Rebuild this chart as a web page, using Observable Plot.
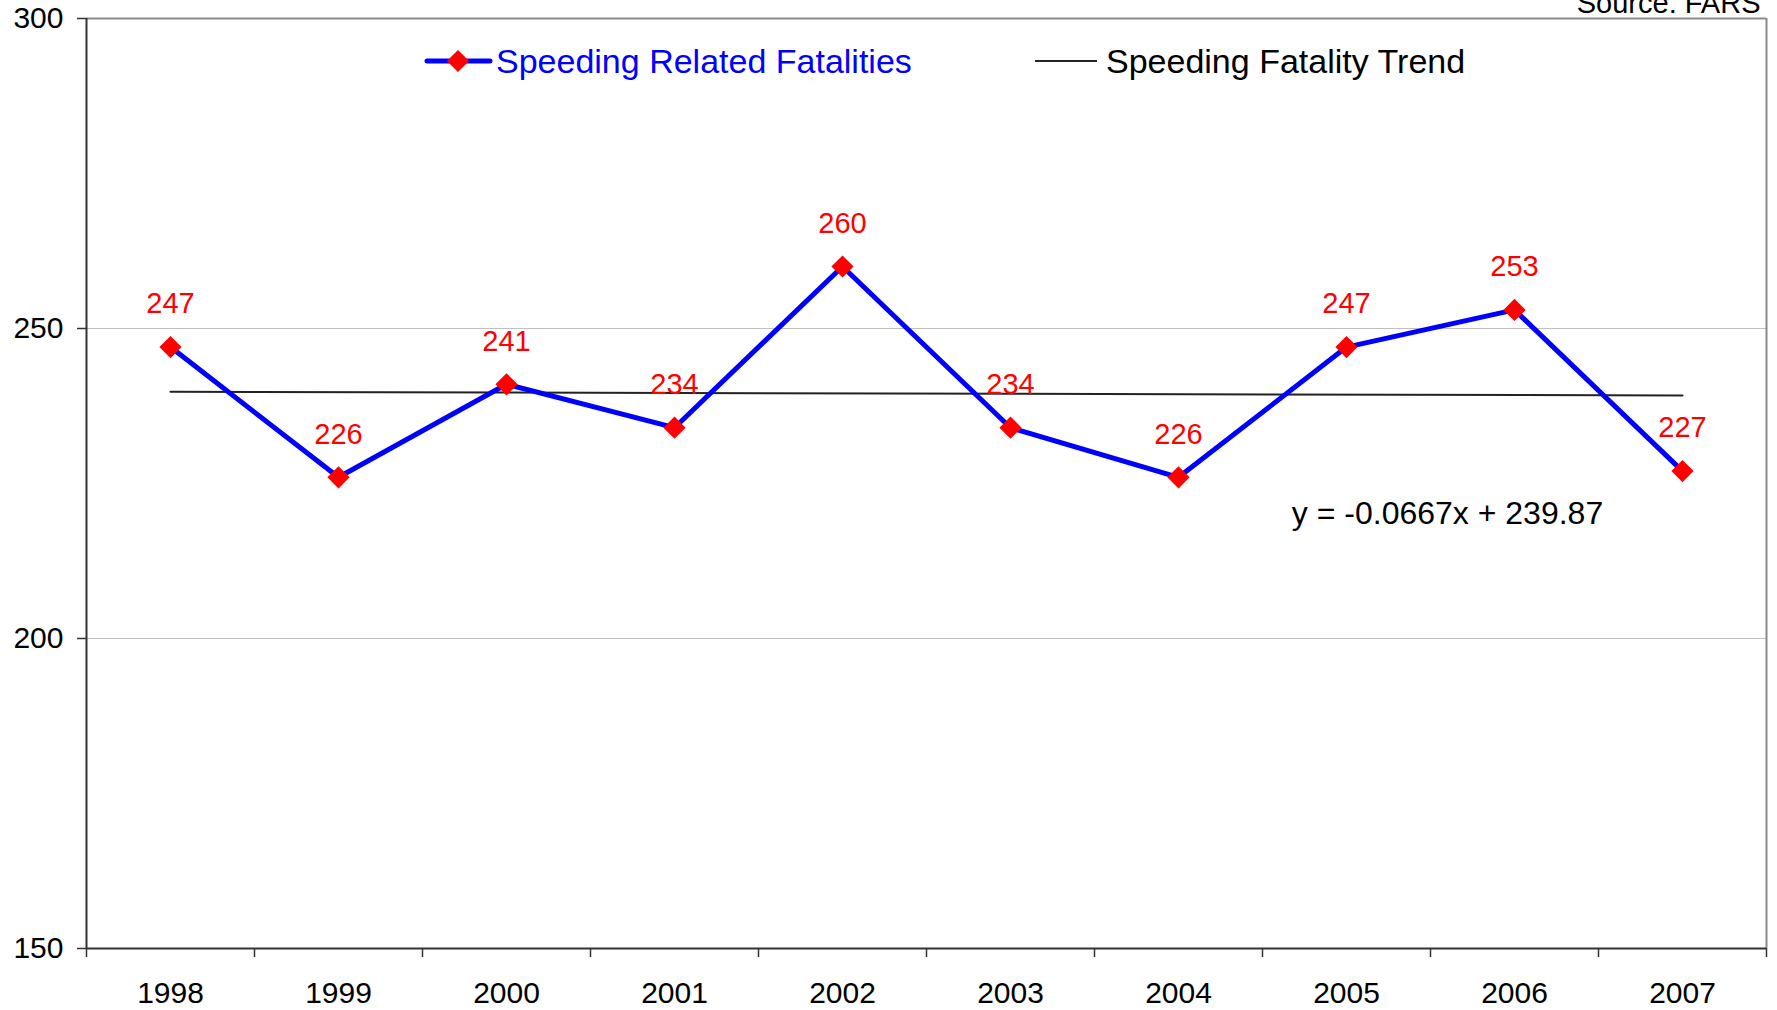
<!DOCTYPE html>
<html>
<head>
<meta charset="utf-8">
<script src="https://cdn.jsdelivr.net/npm/d3@7"></script>
<script src="https://cdn.jsdelivr.net/npm/@observablehq/plot@0.6"></script>
<style>
  html, body { margin: 0; padding: 0; background: #fff; }
  #wrap { position: relative; width: 1777px; height: 1010px; overflow: hidden; font-family: "Liberation Sans", Arial, sans-serif; }
  #legend { position: absolute; left: 0; top: 0; pointer-events: none; }
</style>
</head>
<body>
<div id="wrap"></div>
<script>
// ---- Data ----
const years = [1998, 1999, 2000, 2001, 2002, 2003, 2004, 2005, 2006, 2007];
const fatalities = [247, 226, 241, 234, 260, 234, 226, 247, 253, 227];
const yTicks = [150, 200, 250, 300];
const seriesName = "Speeding Related Fatalities";
const trendName = "Speeding Fatality Trend";
const sourceText = "Source: FARS";

const data = years.map((year, i) => ({year, value: fatalities[i], idx: i + 1}));

// Linear regression on index 1..n (as in the original spreadsheet trendline)
const mx = d3.mean(data, d => d.idx), my = d3.mean(data, d => d.value);
const slope = d3.sum(data, d => (d.idx - mx) * (d.value - my)) / d3.sum(data, d => (d.idx - mx) ** 2);
const intercept = my - slope * mx;
const equation = `y = ${slope.toFixed(4)}x + ${intercept.toFixed(2)}`;

const xMin = d3.min(years) - 0.5, xMax = d3.max(years) + 0.5;
const bounds = d3.range(years.length + 1).map(i => xMin + i);
const yMin = d3.min(yTicks), yMax = d3.max(yTicks);

const FONT = '"Liberation Sans", Arial, sans-serif';

const chart = Plot.plot({
  width: 1777,
  height: 1010,
  marginLeft: 86,
  marginRight: 11,
  marginTop: 18,
  marginBottom: 62,
  style: {fontFamily: FONT, color: "#000", background: "#fff"},
  x: {type: "linear", domain: [xMin, xMax]},
  y: {domain: [yMin, yMax]},
  marks: [
    // gridlines
    Plot.ruleY(yTicks.filter(t => t > yMin && t < yMax), {stroke: "#c0c0c0", strokeWidth: 1}),
    // frame top & right (gray)
    Plot.ruleY([yMax], {stroke: "#8a8a8a", strokeWidth: 2}),
    Plot.ruleX([xMax], {stroke: "#8a8a8a", strokeWidth: 2}),
    // axes lines
    Plot.ruleX([xMin], {stroke: "#333", strokeWidth: 2}),
    Plot.ruleY([yMin], {stroke: "#333", strokeWidth: 2}),
    // y axis
    Plot.axisY(yTicks, {label: null, tickSize: 9, tickPadding: 14, fontSize: 30, stroke: "#333", strokeWidth: 1.5, fill: "#000"}),
    // x boundary ticks
    Plot.axisX(bounds, {label: null, tickSize: 9, tickFormat: () => "", stroke: "#333", strokeWidth: 1.5}),
    // x labels
    Plot.axisX(years, {label: null, tickSize: 0, tickPadding: 33, tickFormat: d => String(d), fontSize: 30, fill: "#000"}),
    // trend
    Plot.linearRegressionY(data, {x: "year", y: "value", ci: 0, stroke: "#222", strokeWidth: 2}),
    // series
    Plot.line(data, {x: "year", y: "value", stroke: "#0000ff", strokeWidth: 5}),
    Plot.dot(data, {x: "year", y: "value", symbol: "diamond2", r: 10, fill: "#ff0000", stroke: "none"}),
    Plot.text(data, {x: "year", y: "value", text: d => String(d.value), dy: -43, fill: "#ff0000", fontSize: 29}),
    // equation
    Plot.text([equation], {frameAnchor: "top-left", dx: 1361, dy: 483, textAnchor: "middle", fontSize: 32, fill: "#000"}),
    // source
    Plot.text([sourceText], {frameAnchor: "top-right", dx: -6, dy: -6, lineAnchor: "bottom", textAnchor: "end", fontSize: 29, fill: "#000"})
  ]
});

const wrap = document.getElementById("wrap");
wrap.appendChild(chart);

// Legend overlay
const leg = d3.create("svg").attr("id", "legend").attr("width", 1777).attr("height", 110);
const g1 = leg.append("g");
g1.append("line").attr("x1", 427).attr("x2", 490).attr("y1", 61).attr("y2", 61)
  .attr("stroke", "#0000ff").attr("stroke-width", 5).attr("stroke-linecap", "round");
g1.append("path").attr("d", d3.symbol(d3.symbolDiamond2, Math.PI * 100)()).attr("transform", "translate(458,61)").attr("fill", "#ff0000");
g1.append("text").attr("x", 496).attr("y", 61).attr("dy", "0.35em").attr("fill", "#0000ff")
  .attr("font-size", 34).attr("font-family", FONT).text(seriesName);
const g2 = leg.append("g");
g2.append("line").attr("x1", 1035).attr("x2", 1097).attr("y1", 61).attr("y2", 61)
  .attr("stroke", "#222").attr("stroke-width", 2);
g2.append("text").attr("x", 1106).attr("y", 61).attr("dy", "0.35em").attr("fill", "#000")
  .attr("font-size", 34).attr("font-family", FONT).text(trendName);
wrap.appendChild(leg.node());
</script>
</body>
</html>
